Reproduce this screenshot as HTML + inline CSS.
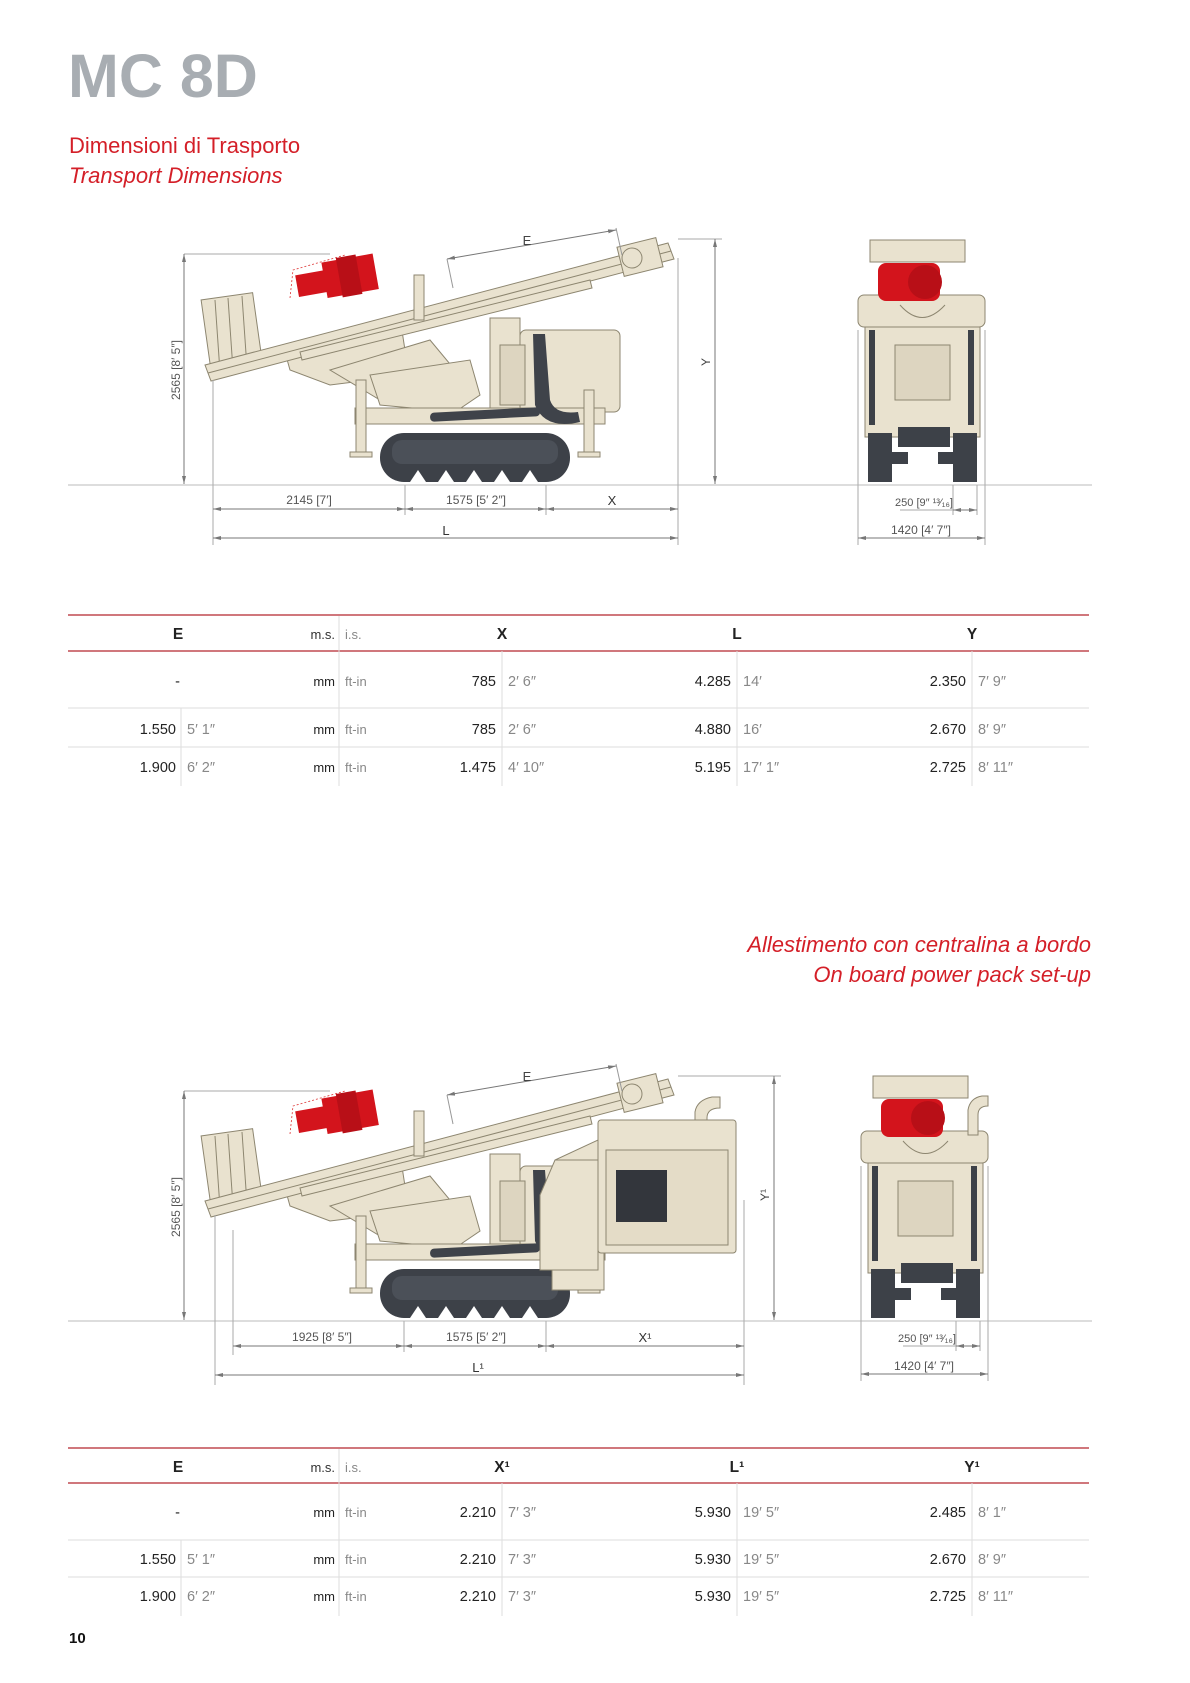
<!DOCTYPE html>
<html><head><meta charset="utf-8"><style>
html,body{margin:0;padding:0;background:#fff;}
svg{display:block;}
</style></head><body>
<svg width="1190" height="1683" viewBox="0 0 1190 1683" xmlns="http://www.w3.org/2000/svg" font-family="Liberation Sans, sans-serif">
<defs>
<marker id="ar" markerWidth="8" markerHeight="6" refX="8" refY="3" orient="auto-start-reverse" markerUnits="userSpaceOnUse"><path d="M0,1 L8,3 L0,5z" fill="#777"/></marker>
<g id="mach">
  <g stroke="#8d8670" stroke-width="1" fill="#e9e2cf">
    <rect x="206" y="296" width="52" height="74" transform="rotate(-8 232 333)"/>
    <line x1="215" y1="300" x2="220" y2="372"/><line x1="228" y1="298" x2="233" y2="370"/><line x1="242" y1="296" x2="247" y2="368"/>
    <polygon points="283,345 400,318 405,350 370,380 330,385 290,370"/>
    <polygon points="330,370 430,340 455,370 440,395 380,400"/>
    <polygon points="205,365 668,243 674,259 211,381"/>
    <line x1="208" y1="373" x2="671" y2="251"/>
    <polygon points="300,352 590,280 592,288 302,360"/>
    <rect x="620" y="242" width="40" height="30" transform="rotate(-14 640 257)"/>
    <circle cx="632" cy="258" r="10"/>
    <rect x="414" y="275" width="10" height="45"/>
    <polygon points="370,375 470,360 480,395 455,412 380,405"/>
    <rect x="490" y="318" width="30" height="95"/>
    <rect x="520" y="330" width="100" height="82" rx="6"/>
    <rect x="500" y="345" width="25" height="60" fill="#ddd5c0"/>
    <rect x="355" y="408" width="250" height="16"/>
    <rect x="356" y="380" width="10" height="75"/>
    <rect x="584" y="390" width="10" height="65"/>
    <rect x="350" y="452" width="22" height="5"/>
    <rect x="578" y="452" width="22" height="5"/>
  </g>
  <g transform="rotate(-10 338 282)">
    <rect x="297" y="268" width="30" height="22" fill="#d3141c"/>
    <rect x="325" y="260" width="52" height="36" fill="#d3141c"/>
    <rect x="340" y="258" width="20" height="40" fill="#b80f17"/>
  </g>
  <path d="M290,298 L293,270 L345,255" stroke="#d33" stroke-width="0.8" fill="none" stroke-dasharray="2,2"/>
  <path d="M533,334 L545,334 L550,400 Q555,415 578,412 L580,422 Q545,430 535,405 Z" fill="#3f434a"/>
  <rect x="430" y="410" width="110" height="9" rx="4" fill="#3f434a" transform="rotate(-3 485 414)"/>
  <rect x="380" y="433" width="190" height="49" rx="24" fill="#3d4148"/>
  <rect x="392" y="440" width="166" height="24" rx="10" fill="#4b5058"/>
  <g fill="#fff"><polygon points="410,482 418,470 426,482"/><polygon points="438,482 446,470 454,482"/><polygon points="466,482 474,470 482,482"/><polygon points="494,482 502,470 510,482"/><polygon points="522,482 530,470 538,482"/></g>
</g>
</defs>

<text x="68" y="97" font-size="61" font-weight="bold" fill="#a8adb2">MC 8D</text>
<text x="69" y="153" font-size="22" fill="#d41f28">Dimensioni di Trasporto</text>
<text x="69" y="183" font-size="22" font-style="italic" fill="#d41f28">Transport Dimensions</text>

<line x1="68" y1="485" x2="1092" y2="485" stroke="#bbb" stroke-width="1"/>
<use href="#mach"/>
<line x1="447" y1="259" x2="616" y2="230" stroke="#777" marker-start="url(#ar)" marker-end="url(#ar)"/>
<line x1="447" y1="259" x2="453" y2="288" stroke="#999"/><line x1="616" y1="228" x2="622" y2="255" stroke="#999"/>
<text x="527" y="245" font-size="13" fill="#444" text-anchor="middle">E</text>
<line x1="184" y1="254" x2="330" y2="254" stroke="#aaa"/>
<line x1="184" y1="254" x2="184" y2="484" stroke="#777" marker-start="url(#ar)" marker-end="url(#ar)"/>
<text transform="translate(180,370) rotate(-90)" font-size="12" fill="#555" text-anchor="middle">2565 [8′ 5″]</text>
<line x1="678" y1="239" x2="722" y2="239" stroke="#aaa"/>
<line x1="715" y1="239" x2="715" y2="484" stroke="#777" marker-start="url(#ar)" marker-end="url(#ar)"/>
<text transform="translate(710,362) rotate(-90)" font-size="12" fill="#444" text-anchor="middle">Y</text>
<g stroke="#aaa"><line x1="213" y1="380" x2="213" y2="545"/><line x1="405" y1="485" x2="405" y2="515"/><line x1="546" y1="485" x2="546" y2="515"/><line x1="678" y1="258" x2="678" y2="545"/></g>
<g stroke="#777"><line x1="213" y1="509" x2="405" y2="509" marker-start="url(#ar)" marker-end="url(#ar)"/><line x1="405" y1="509" x2="546" y2="509" marker-start="url(#ar)" marker-end="url(#ar)"/><line x1="546" y1="509" x2="678" y2="509" marker-start="url(#ar)" marker-end="url(#ar)"/><line x1="213" y1="538" x2="678" y2="538" marker-start="url(#ar)" marker-end="url(#ar)"/></g>
<g font-size="12" fill="#555" text-anchor="middle"><text x="309" y="504">2145 [7′]</text><text x="476" y="504">1575 [5′ 2″]</text><text x="612" y="505" font-size="13" fill="#333">X</text><text x="446" y="535" font-size="13" fill="#333">L</text></g>

<g id="front">
<g stroke="#8d8670" stroke-width="1" fill="#e9e2cf">
<rect x="870" y="240" width="95" height="22"/>
<rect x="858" y="295" width="127" height="32" rx="6"/>
<rect x="865" y="327" width="115" height="110"/>
<rect x="895" y="345" width="55" height="55" fill="#ddd5c0"/>
<path d="M900,305 Q922,330 945,305" fill="none"/>
</g>
<rect x="878" y="263" width="62" height="38" rx="8" fill="#d3141c"/>
<circle cx="925" cy="282" r="17" fill="#b80f17"/>
<g fill="#3d4148"><rect x="868" y="433" width="24" height="49"/><rect x="953" y="433" width="24" height="49"/><rect x="898" y="427" width="52" height="20"/><rect x="892" y="452" width="16" height="12"/><rect x="938" y="452" width="16" height="12"/><rect x="869" y="330" width="6" height="95"/><rect x="968" y="330" width="6" height="95"/></g>
</g>
<g stroke="#aaa"><line x1="858" y1="330" x2="858" y2="545"/><line x1="985" y1="330" x2="985" y2="545"/><line x1="953" y1="485" x2="953" y2="515"/><line x1="977" y1="485" x2="977" y2="515"/></g>
<g stroke="#777"><line x1="953" y1="510" x2="977" y2="510" marker-start="url(#ar)" marker-end="url(#ar)"/><line x1="858" y1="538" x2="985" y2="538" marker-start="url(#ar)" marker-end="url(#ar)"/><line x1="900" y1="510" x2="953" y2="510" stroke="#aaa"/></g>
<text x="924" y="506" font-size="11" fill="#555" text-anchor="middle">250 [9″ ¹³⁄₁₆]</text>
<text x="921" y="534" font-size="12" fill="#555" text-anchor="middle">1420 [4′ 7″]</text>

<g font-size="14.5" fill="#222">
<line x1="68" y1="615" x2="1089" y2="615" stroke="#b3262e" stroke-width="1.2"/>
<line x1="68" y1="651" x2="1089" y2="651" stroke="#b3262e" stroke-width="1.2"/>
<g stroke="#ddd"><line x1="68" y1="708" x2="1089" y2="708"/><line x1="68" y1="747" x2="1089" y2="747"/>
<line x1="339" y1="616" x2="339" y2="786"/><line x1="181" y1="708" x2="181" y2="786"/><line x1="502" y1="651" x2="502" y2="786"/><line x1="737" y1="651" x2="737" y2="786"/><line x1="972" y1="651" x2="972" y2="786"/></g>
<g font-weight="bold" font-size="15.5" text-anchor="middle"><text x="178" y="639">E</text><text x="502" y="639">X</text><text x="737" y="639">L</text><text x="972" y="639">Y</text></g>
<text x="335" y="639" text-anchor="end" font-size="13" fill="#333">m.s.</text><text x="345" y="639" font-size="13" fill="#888">i.s.</text>
<g text-anchor="end"><text x="180" y="686">-</text><text x="335" y="686" font-size="13">mm</text><text x="496" y="686">785</text><text x="731" y="686">4.285</text><text x="966" y="686">2.350</text>
<text x="176" y="734">1.550</text><text x="335" y="734" font-size="13">mm</text><text x="496" y="734">785</text><text x="731" y="734">4.880</text><text x="966" y="734">2.670</text>
<text x="176" y="772">1.900</text><text x="335" y="772" font-size="13">mm</text><text x="496" y="772">1.475</text><text x="731" y="772">5.195</text><text x="966" y="772">2.725</text></g>
<g fill="#888"><text x="345" y="686" font-size="13">ft-in</text><text x="508" y="686">2′ 6″</text><text x="743" y="686">14′</text><text x="978" y="686">7′ 9″</text>
<text x="187" y="734">5′ 1″</text><text x="345" y="734" font-size="13">ft-in</text><text x="508" y="734">2′ 6″</text><text x="743" y="734">16′</text><text x="978" y="734">8′ 9″</text>
<text x="187" y="772">6′ 2″</text><text x="345" y="772" font-size="13">ft-in</text><text x="508" y="772">4′ 10″</text><text x="743" y="772">17′ 1″</text><text x="978" y="772">8′ 11″</text></g>
</g>

<text x="1091" y="952" font-size="22" font-style="italic" fill="#d41f28" text-anchor="end">Allestimento con centralina a bordo</text>
<text x="1091" y="982" font-size="22" font-style="italic" fill="#d41f28" text-anchor="end">On board power pack set-up</text>

<line x1="68" y1="1321" x2="1092" y2="1321" stroke="#bbb"/>
<g transform="translate(0,836)"><use href="#mach"/></g>
<g stroke="#8d8670" stroke-width="1" fill="#e9e2cf">
<rect x="552" y="1180" width="52" height="110"/>
<path d="M695,1152 L695,1112 Q697,1100 712,1097 L720,1097 L720,1108 Q707,1108 707,1118 L707,1152Z"/>
<polygon points="540,1195 555,1160 598,1140 598,1270 540,1270"/>
<rect x="598" y="1120" width="138" height="133" rx="3"/>
<rect x="606" y="1150" width="122" height="95" fill="#e4dcc7"/>
<line x1="555" y1="1160" x2="598" y2="1160"/>
</g>
<rect x="616" y="1170" width="51" height="52" fill="#33363c"/>
<g stroke="#aaa"><line x1="215" y1="1215" x2="215" y2="1385"/><line x1="233" y1="1230" x2="233" y2="1355"/><line x1="404" y1="1321" x2="404" y2="1352"/><line x1="546" y1="1321" x2="546" y2="1352"/><line x1="744" y1="1200" x2="744" y2="1385"/></g>
<line x1="447" y1="1095" x2="616" y2="1066" stroke="#777" marker-start="url(#ar)" marker-end="url(#ar)"/>
<line x1="447" y1="1095" x2="453" y2="1124" stroke="#999"/><line x1="616" y1="1064" x2="622" y2="1091" stroke="#999"/>
<text x="527" y="1081" font-size="13" fill="#444" text-anchor="middle">E</text>
<line x1="184" y1="1091" x2="330" y2="1091" stroke="#aaa"/>
<line x1="184" y1="1091" x2="184" y2="1320" stroke="#777" marker-start="url(#ar)" marker-end="url(#ar)"/>
<text transform="translate(180,1207) rotate(-90)" font-size="12" fill="#555" text-anchor="middle">2565 [8′ 5″]</text>
<line x1="678" y1="1076" x2="781" y2="1076" stroke="#aaa"/>
<line x1="774" y1="1076" x2="774" y2="1320" stroke="#777" marker-start="url(#ar)" marker-end="url(#ar)"/>
<text transform="translate(769,1195) rotate(-90)" font-size="12" fill="#444" text-anchor="middle">Y¹</text>
<g stroke="#777"><line x1="233" y1="1346" x2="404" y2="1346" marker-start="url(#ar)" marker-end="url(#ar)"/><line x1="404" y1="1346" x2="546" y2="1346" marker-start="url(#ar)" marker-end="url(#ar)"/><line x1="546" y1="1346" x2="744" y2="1346" marker-start="url(#ar)" marker-end="url(#ar)"/><line x1="215" y1="1375" x2="744" y2="1375" marker-start="url(#ar)" marker-end="url(#ar)"/></g>
<g font-size="12" fill="#555" text-anchor="middle"><text x="322" y="1341">1925 [8′ 5″]</text><text x="476" y="1341">1575 [5′ 2″]</text><text x="645" y="1342" font-size="13" fill="#333">X¹</text><text x="478" y="1372" font-size="13" fill="#333">L¹</text></g>

<g transform="translate(3,836)"><use href="#front"/></g>
<g stroke="#8d8670" fill="#e9e2cf"><path d="M968,1135 L968,1110 Q970,1098 982,1096 L988,1096 L988,1106 Q978,1106 978,1115 L978,1135Z"/></g>
<g stroke="#aaa"><line x1="861" y1="1166" x2="861" y2="1381"/><line x1="988" y1="1166" x2="988" y2="1381"/><line x1="956" y1="1321" x2="956" y2="1351"/><line x1="980" y1="1321" x2="980" y2="1351"/></g>
<g stroke="#777"><line x1="956" y1="1346" x2="980" y2="1346" marker-start="url(#ar)" marker-end="url(#ar)"/><line x1="861" y1="1374" x2="988" y2="1374" marker-start="url(#ar)" marker-end="url(#ar)"/><line x1="903" y1="1346" x2="956" y2="1346" stroke="#aaa"/></g>
<text x="927" y="1342" font-size="11" fill="#555" text-anchor="middle">250 [9″ ¹³⁄₁₆]</text>
<text x="924" y="1370" font-size="12" fill="#555" text-anchor="middle">1420 [4′ 7″]</text>

<g font-size="14.5" fill="#222">
<line x1="68" y1="1448" x2="1089" y2="1448" stroke="#b3262e" stroke-width="1.2"/>
<line x1="68" y1="1483" x2="1089" y2="1483" stroke="#b3262e" stroke-width="1.2"/>
<g stroke="#ddd"><line x1="68" y1="1540" x2="1089" y2="1540"/><line x1="68" y1="1577" x2="1089" y2="1577"/>
<line x1="339" y1="1449" x2="339" y2="1616"/><line x1="181" y1="1540" x2="181" y2="1616"/><line x1="502" y1="1483" x2="502" y2="1616"/><line x1="737" y1="1483" x2="737" y2="1616"/><line x1="972" y1="1483" x2="972" y2="1616"/></g>
<g font-weight="bold" font-size="15.5" text-anchor="middle"><text x="178" y="1472">E</text><text x="502" y="1472">X¹</text><text x="737" y="1472">L¹</text><text x="972" y="1472">Y¹</text></g>
<text x="335" y="1472" text-anchor="end" font-size="13" fill="#333">m.s.</text><text x="345" y="1472" font-size="13" fill="#888">i.s.</text>
<g text-anchor="end"><text x="180" y="1517">-</text><text x="335" y="1517" font-size="13">mm</text><text x="496" y="1517">2.210</text><text x="731" y="1517">5.930</text><text x="966" y="1517">2.485</text>
<text x="176" y="1564">1.550</text><text x="335" y="1564" font-size="13">mm</text><text x="496" y="1564">2.210</text><text x="731" y="1564">5.930</text><text x="966" y="1564">2.670</text>
<text x="176" y="1601">1.900</text><text x="335" y="1601" font-size="13">mm</text><text x="496" y="1601">2.210</text><text x="731" y="1601">5.930</text><text x="966" y="1601">2.725</text></g>
<g fill="#888"><text x="345" y="1517" font-size="13">ft-in</text><text x="508" y="1517">7′ 3″</text><text x="743" y="1517">19′ 5″</text><text x="978" y="1517">8′ 1″</text>
<text x="187" y="1564">5′ 1″</text><text x="345" y="1564" font-size="13">ft-in</text><text x="508" y="1564">7′ 3″</text><text x="743" y="1564">19′ 5″</text><text x="978" y="1564">8′ 9″</text>
<text x="187" y="1601">6′ 2″</text><text x="345" y="1601" font-size="13">ft-in</text><text x="508" y="1601">7′ 3″</text><text x="743" y="1601">19′ 5″</text><text x="978" y="1601">8′ 11″</text></g>
</g>
<text x="69" y="1643" font-size="15" font-weight="bold" fill="#111">10</text>
</svg>
</body></html>
